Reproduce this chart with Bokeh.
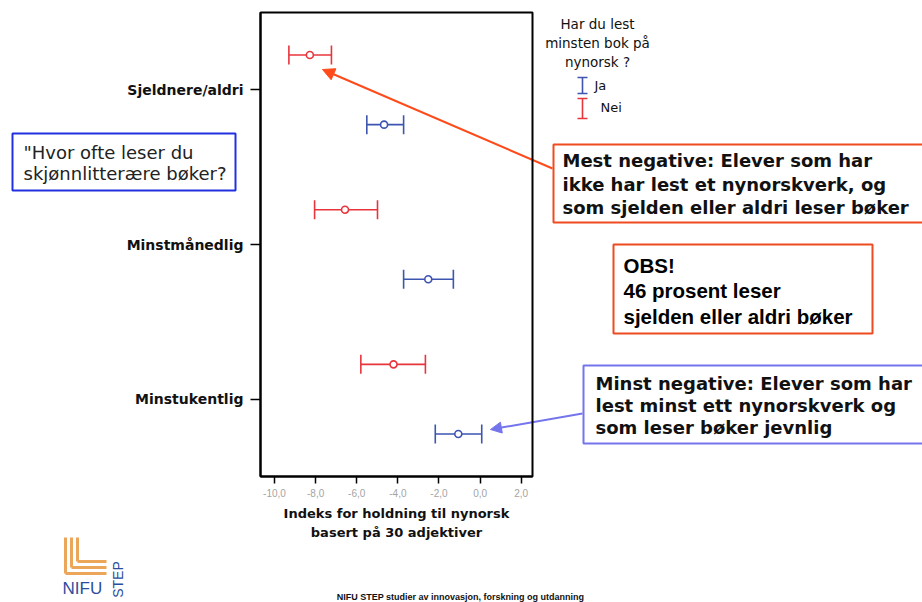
from bokeh.plotting import figure
from bokeh.models import (ColumnDataSource, FactorRange, Range1d, FixedTicker, Whisker,
                          TeeHead, Label, BoxAnnotation, Arrow, NormalHead)
from bokeh.transform import dodge
from bokeh.embed import file_html
from bokeh.resources import INLINE
import math

# ---------------- data ----------------
categories = ["Sjeldnere/aldri", "Minstmånedlig", "Minstukentlig"]
nei_mean = [-8.28, -6.57, -4.21]
nei_lo = [-9.30, -8.05, -5.80]
nei_hi = [-7.23, -4.99, -2.66]
ja_mean = [-4.67, -2.52, -1.06]
ja_lo = [-5.51, -3.72, -2.18]
ja_hi = [-3.72, -1.30, 0.08]
x_ticks = [-10, -8, -6, -4, -2, 0, 2]
x_tick_labels = ["-10,0", "-8,0", "-6,0", "-4,0", "-2,0", "0,0", "2,0"]
legend_title = ["Har du lest", "minsten bok på", "nynorsk ?"]
legend_labels = ["Ja", "Nei"]

RED = "#e8343c"
BLUE = "#3d55b0"
ORANGE = "#f04a20"
LBLUE = "#7474ec"

W, H = 922, 602
FL, FR, FT, FB = 260, 532, 12, 476
X0, X1 = -10.681, 2.549

# ---------------- background canvas (notes, legend, logo) ----------------
bg = figure(width=W, height=H, output_backend="svg", toolbar_location=None,
            x_range=Range1d(0, W), y_range=Range1d(H, 0),
            x_axis_location=None, y_axis_location=None, min_border=0)
bg.grid.visible = False
bg.outline_line_color = None
bg.background_fill_color = "white"
bg.border_fill_color = "white"

# ---------------- main chart ----------------
p = figure(width=W, height=H, output_backend="svg", toolbar_location=None,
           x_range=Range1d(X0, X1), y_range=FactorRange(factors=categories[::-1]),
           min_border_left=FL, min_border_right=W - FR,
           min_border_top=FT, min_border_bottom=H - FB)
p.styles = {"position": "absolute", "left": "0px", "top": "0px"}
p.grid.visible = False
p.outline_line_color = "black"
p.outline_line_width = 2
p.background_fill_color = None
p.border_fill_color = None

xa = p.xaxis[0]
xa.ticker = FixedTicker(ticks=x_ticks)
xa.major_label_overrides = {t: l for t, l in zip(x_ticks, x_tick_labels)}
xa.minor_tick_line_color = None
xa.major_tick_in = 0
xa.major_tick_out = 7
xa.major_tick_line_width = 1.5
xa.axis_line_color = "black"
xa.axis_line_width = 2
xa.major_label_text_font = "Liberation Sans"
xa.major_label_text_font_size = "10px"
xa.major_label_text_color = "#a4a4a4"
xa.major_label_standoff = 5
xa.axis_label = "Indeks for holdning til nynorsk\nbasert på 30 adjektiver"
xa.axis_label_text_font = "DejaVu Sans"
xa.axis_label_text_font_style = "bold"
xa.axis_label_text_font_size = "13px"
xa.axis_label_text_color = "#111111"
xa.axis_label_standoff = 6
xa.axis_label_text_line_height = 1.3

ya = p.yaxis[0]
ya.major_tick_in = 0
ya.major_tick_out = 10
ya.major_tick_line_width = 1.5
ya.axis_line_color = "black"
ya.axis_line_width = 2
ya.major_label_text_font = "DejaVu Sans"
ya.major_label_text_font_style = "bold"
ya.major_label_text_font_size = "14px"
ya.major_label_text_color = "#111111"
ya.major_label_standoff = 7

nei_src = ColumnDataSource(dict(cat=categories, mean=nei_mean, lo=nei_lo, hi=nei_hi))
ja_src = ColumnDataSource(dict(cat=categories, mean=ja_mean, lo=ja_lo, hi=ja_hi))

for src, col, off in [(nei_src, RED, 0.225), (ja_src, BLUE, -0.225)]:
    yb = dodge("cat", off, range=p.y_range)
    p.add_layout(Whisker(source=src, base=yb, lower="lo", upper="hi", dimension="width",
                         line_color=col, line_width=1.6,
                         lower_head=TeeHead(size=19, line_color=col, line_width=1.6),
                         upper_head=TeeHead(size=19, line_color=col, line_width=1.6)))
    p.scatter("mean", yb, source=src, marker="circle", size=7, fill_color="white",
              line_color=col, line_width=1.6)

# ---------------- legend (manual, on background) ----------------
for i, t in enumerate(legend_title):
    bg.add_layout(Label(x=597, y=23 + 19 * i, text=t, text_align="center",
                        text_baseline="middle", text_font="DejaVu Sans",
                        text_font_size="13.5px", text_color="#111111"))
leg_ja = ColumnDataSource(dict(b=[582], lo=[93], hi=[77]))
leg_nei = ColumnDataSource(dict(b=[582], lo=[118], hi=[98]))
for s, col in [(leg_ja, BLUE), (leg_nei, RED)]:
    bg.add_layout(Whisker(source=s, base="b", lower="lo", upper="hi", dimension="height",
                          line_color=col, line_width=1.6,
                          lower_head=TeeHead(size=10, line_color=col, line_width=1.6),
                          upper_head=TeeHead(size=10, line_color=col, line_width=1.6)))
bg.add_layout(Label(x=594, y=85, text=legend_labels[0], text_baseline="middle",
                    text_font="DejaVu Sans", text_font_size="13px", text_color="#111111"))
bg.add_layout(Label(x=600, y=107, text=legend_labels[1], text_baseline="middle",
                    text_font="DejaVu Sans", text_font_size="13px", text_color="#111111"))


# ---------------- boxes & notes ----------------
def box(l, t, r, b, col):
    bg.add_layout(BoxAnnotation(left=l, right=r, top=t, bottom=b,
                                fill_color=None, line_color=col, line_alpha=1.0,
                                line_width=2))


def lines(x, ys, texts, font, size, style="normal", color="#111111"):
    for yy, tt in zip(ys, texts):
        bg.add_layout(Label(x=x, y=yy, text=tt, text_baseline="middle",
                            text_font=font, text_font_size=size, text_font_style=style,
                            text_color=color))


box(12, 133, 235, 190, "#2030e0")
lines(23, [152, 173], ["\"Hvor ofte leser du", "skjønnlitterære bøker?"],
      "DejaVu Sans", "18px", color="#222222")

box(553, 144, 930, 222, ORANGE)
lines(562, [160, 184, 207],
      ["Mest negative: Elever som har", "ikke har lest et nynorskverk, og",
       "som sjelden eller aldri leser bøker"], "DejaVu Sans", "18px", "bold")

box(613, 244, 872, 333, ORANGE)
lines(623, [265, 290, 316], ["OBS!", "46 prosent leser", "sjelden eller aldri bøker"],
      "Liberation Sans", "20.5px", "bold", "#000000")

box(583, 365, 930, 443, LBLUE)
lines(595, [383, 405, 427],
      ["Minst negative: Elever som har", "lest minst ett nynorskverk og",
       "som leser bøker jevnlig"], "DejaVu Sans", "18px", "bold")

bg.add_layout(Arrow(end=NormalHead(size=12, fill_color="#ff4a1a", line_color="#ff4a1a"),
                    x_start=552, y_start=168, x_end=322, y_end=69,
                    line_color="#ff4a1a", line_width=2))
bg.add_layout(Arrow(end=NormalHead(size=11, fill_color=LBLUE, line_color=LBLUE),
                    x_start=582, y_start=413, x_end=490, y_end=429,
                    line_color=LBLUE, line_width=2))

# ---------------- logo & footer ----------------
LOGO = "#eba65a"
logo_x = [65, 71, 77]
logo_y = [573, 567, 561]
bg.segment(x0=logo_x, y0=[537] * 3, x1=logo_x, y1=logo_y, line_color=LOGO, line_width=3)
bg.segment(x0=logo_x, y0=logo_y, x1=[106] * 3, y1=logo_y, line_color=LOGO, line_width=3)
bg.add_layout(Label(x=62, y=588, text="NIFU", text_baseline="middle",
                    text_font="Liberation Sans", text_font_size="17px", text_color="#2a4da0"))
bg.add_layout(Label(x=117, y=579, text="STEP", text_baseline="middle",
                    text_align="center", angle=math.pi / 2,
                    text_font="Liberation Sans", text_font_size="14px", text_color="#2a4da0"))
bg.add_layout(Label(x=460, y=596, text="NIFU STEP studier av innovasjon, forskning og utdanning",
                    text_baseline="middle", text_align="center",
                    text_font="Liberation Sans", text_font_size="9px", text_font_style="bold",
                    text_color="#111111"))

open("out.html", "w").write(file_html([bg, p], INLINE))
